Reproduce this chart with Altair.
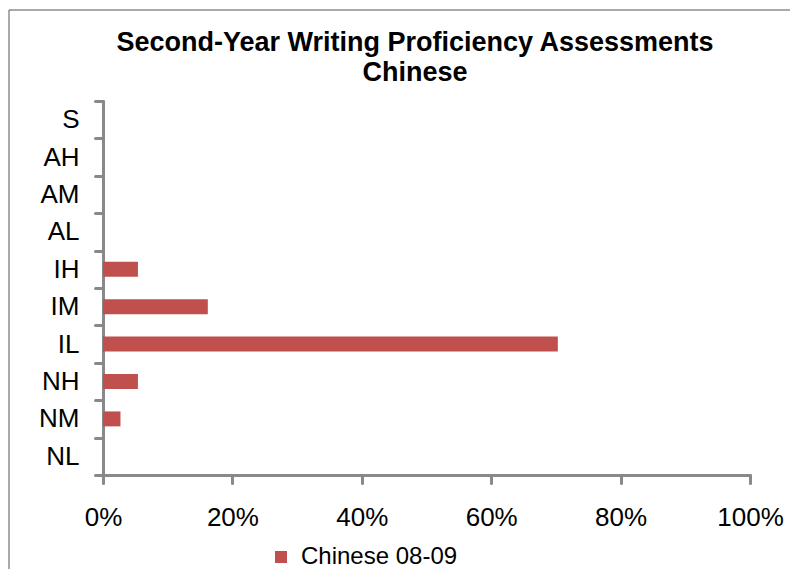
import altair as alt
import pandas as pd

levels = ["S", "AH", "AM", "AL", "IH", "IM", "IL", "NH", "NM", "NL"]
shares = [0.0, 0.0, 0.0, 0.0, 0.054, 0.162, 0.703, 0.054, 0.027, 0.0]
series = "Chinese 08-09"
x_ticks = [0, 0.2, 0.4, 0.6, 0.8, 1.0]
title_lines = ["Second-Year Writing Proficiency Assessments", "Chinese"]

df = pd.DataFrame({"level": levels, "share": shares, "series": [series] * len(levels)})
title_df = pd.DataFrame({"line": title_lines, "row": [0, 1]})

FONT = "Liberation Sans"
AXIS_GRAY = "#898989"
BAR_RED = "#C0504D"

frame = alt.Chart(pd.DataFrame({"a": [0]})).mark_rect(
    fill=None, stroke="#555555", strokeWidth=1, clip=False
).encode(
    x=alt.value(-94), x2=alt.value(696), y=alt.value(-91), y2=alt.value(520)
)

title1 = alt.Chart(title_df[title_df.row == 0]).mark_text(
    font=FONT, fontSize=27, fontWeight="bold", color="#000000",
    align="center", baseline="middle", clip=False
).encode(text="line:N", x=alt.value(312), y=alt.value(-58))

title2 = alt.Chart(title_df[title_df.row == 1]).mark_text(
    font=FONT, fontSize=27, fontWeight="bold", color="#000000",
    align="center", baseline="middle", clip=False
).encode(text="line:N", x=alt.value(312), y=alt.value(-28))

bars = alt.Chart(df).mark_bar(height=alt.RelativeBandSize(0.4)).encode(
    y=alt.Y(
        "level:N",
        sort=levels,
        scale=alt.Scale(paddingInner=0, paddingOuter=0),
        axis=alt.Axis(
            title=None,
            tickBand="extent",
            tickSize=8,
            tickWidth=3,
            tickColor=AXIS_GRAY,
            tickCap="round",
            domainColor=AXIS_GRAY,
            domainWidth=3,
            domainCap="round",
            labelFont=FONT,
            labelFontSize=26,
            labelColor="#000000",
            labelPadding=16,
        ),
    ),
    x=alt.X(
        "share:Q",
        scale=alt.Scale(domain=[0, 1], nice=False),
        axis=alt.Axis(
            title=None,
            values=x_ticks,
            format=".0%",
            grid=False,
            labelFlush=False,
            labelOverlap=False,
            tickSize=8,
            tickWidth=3,
            tickColor=AXIS_GRAY,
            tickCap="round",
            domainColor=AXIS_GRAY,
            domainWidth=3,
            domainCap="round",
            labelFont=FONT,
            labelFontSize=26,
            labelColor="#000000",
            labelPadding=21,
        ),
    ),
    color=alt.Color(
        "series:N",
        scale=alt.Scale(domain=[series], range=[BAR_RED]),
        legend=alt.Legend(
            title=None,
            orient="none",
            legendX=166,
            legendY=444,
            symbolType="square",
            symbolSize=144,
            symbolStrokeWidth=0,
            labelFont=FONT,
            labelFontSize=24,
            labelColor="#000000",
            labelOffset=8,
        ),
    ),
)

chart = alt.layer(frame, title1, title2, bars).properties(
    width=647,
    height=374,
    autosize=alt.AutoSizeParams(type="none"),
    padding={"left": 95, "top": 93, "right": 40, "bottom": 94},
).configure(background="white").configure_view(stroke=None)

chart.save("out.html", embed_options={"renderer": "svg", "actions": False})
